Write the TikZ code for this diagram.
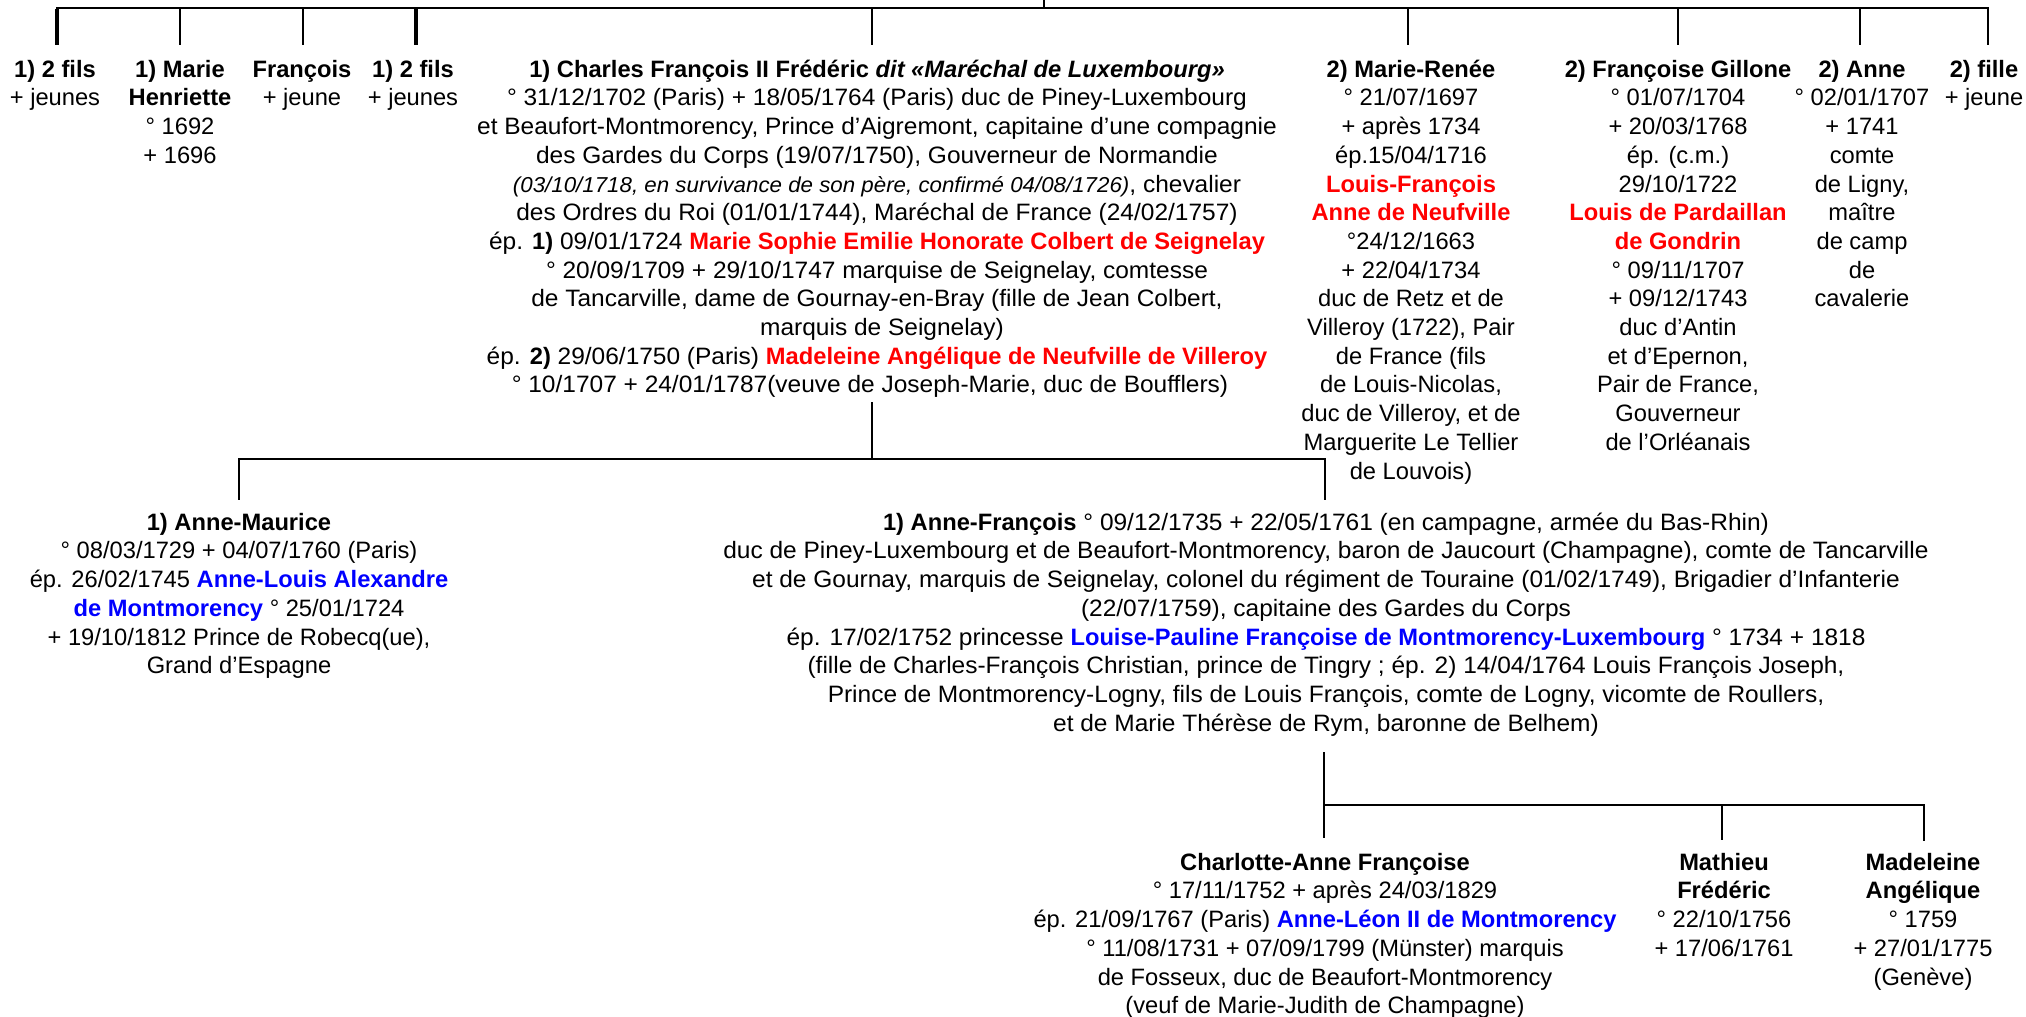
\documentclass[tikz,border=0pt]{standalone}
\usepackage{fontspec}
\setmainfont{Liberation Sans}
\newfontfamily\widefont[FakeStretch=1.033]{Liberation Sans}
\definecolor{pred}{RGB}{255,0,0}
\definecolor{pblue}{RGB}{0,0,255}
\newcommand\pfont{\fontsize{23.7}{28.7}\selectfont}
\newcommand\tp{\rule{0pt}{19pt}}
\newcommand\rdname[1]{\textcolor{pred}{\normalfont\bfseries #1}}
\newcommand\blname[1]{\textcolor{pblue}{\normalfont\bfseries #1}}
\newcommand\bname[1]{{\normalfont\bfseries #1}}
\newcommand\shl[1]{\hspace*{#1pt}}
\begin{document}
\begin{tikzpicture}[x=1pt,y=-1pt,
  person/.style={anchor=north,inner sep=0pt,align=center,font=\pfont},
  wideperson/.style={person,font=\pfont\widefont},
  link/.style={line width=1.8pt},
  bar/.style={line width=2.8pt},
  heavy/.style={line width=4pt}]
\fill[white] (0,0) rectangle (2026,1017);
\useasboundingbox (0,0) rectangle (2026,1017);

% ---------- top row ----------
\node[person] (n1) at (55,58) {\tp\textbf{1) 2 fils}\\+ jeunes};
\node[person] (n2) at (180,58) {\tp\textbf{1) Marie}\\\textbf{Henriette}\\° 1692\\+ 1696};
\node[person] (n3) at (302,58) {\tp\textbf{François}\\+ jeune};
\node[person] (n4) at (413,58) {\tp\textbf{1) 2 fils}\\+ jeunes};
\node[wideperson] (n5) at (877,58) {\tp\bname{1) Charles François II Frédéric \textit{dit «Maréchal de Luxembourg»}}\\
° 31/12/1702 (Paris) + 18/05/1764 (Paris) duc de Piney-Luxembourg\\
et Beaufort-Montmorency, Prince d’Aigremont, capitaine d’une compagnie\\
des Gardes du Corps (19/07/1750), Gouverneur de Normandie\shl{26}\\
{\fontsize{21.6}{28.7}\selectfont\itshape (03/10/1718, en survivance de son père, confirmé 04/08/1726)}, chevalier\shl{12}\\
des Ordres du Roi (01/01/1744), Maréchal de France (24/02/1757)\shl{26}\\
ép. \bname{1)} 09/01/1724 \rdname{Marie Sophie Emilie Honorate Colbert de Seignelay}\shl{4}\\
° 20/09/1709 + 29/10/1747 marquise de Seignelay, comtesse\shl{31}\\
de Tancarville, dame de Gournay-en-Bray (fille de Jean Colbert,\shl{19}\\
\shl{10}marquis de Seignelay)\\
ép. \bname{2)} 29/06/1750 (Paris) \rdname{Madeleine Angélique de Neufville de Villeroy}\shl{2}\\
° 10/1707 + 24/01/1787(veuve de Joseph-Marie, duc de Boufflers)\shl{14}};
\node[person] (n6) at (1411,58) {\tp\textbf{2) Marie-Renée}\\° 21/07/1697\\+ après 1734\\ép.15/04/1716\\
\rdname{Louis-François}\\\rdname{Anne de Neufville}\\°24/12/1663\\+ 22/04/1734\\duc de Retz et de\\
Villeroy (1722), Pair\\de France (fils\\de Louis-Nicolas,\\duc de Villeroy, et de\\Marguerite Le Tellier\\de Louvois)};
\node[person] (n7) at (1678,58) {\tp\textbf{2) Françoise Gillone}\\° 01/07/1704\\+ 20/03/1768\\ép. (c.m.)\\29/10/1722\\
\rdname{Louis de Pardaillan}\\\rdname{de Gondrin}\\° 09/11/1707\\+ 09/12/1743\\duc d’Antin\\et d’Epernon,\\
Pair de France,\\Gouverneur\\de l’Orléanais};
\node[person] (n8) at (1862,58) {\tp\textbf{2) Anne}\\° 02/01/1707\\+ 1741\\comte\\de Ligny,\\maître\\de camp\\de\\cavalerie};
\node[person] (n9) at (1984,58) {\tp\textbf{2) fille}\\+ jeune};

% ---------- second row ----------
\node[person] (m1) at (239,511) {\tp\textbf{1) Anne-Maurice}\\° 08/03/1729 + 04/07/1760 (Paris)\\
ép. 26/02/1745 \blname{Anne-Louis Alexandre}\\\blname{de Montmorency} ° 25/01/1724\\
+ 19/10/1812 Prince de Robecq(ue),\\Grand d’Espagne};
\node[wideperson] (m2) at (1326,511) {\tp\bname{1) Anne-François} ° 09/12/1735 + 22/05/1761 (en campagne, armée du Bas-Rhin)\\
duc de Piney-Luxembourg et de Beaufort-Montmorency, baron de Jaucourt (Champagne), comte de Tancarville\\
et de Gournay, marquis de Seignelay, colonel du régiment de Touraine (01/02/1749), Brigadier d’Infanterie\\
(22/07/1759), capitaine des Gardes du Corps\\
ép. 17/02/1752 princesse \blname{Louise-Pauline Françoise de Montmorency-Luxembourg} ° 1734 + 1818\\
(fille de Charles-François Christian, prince de Tingry ; ép. 2) 14/04/1764 Louis François Joseph,\\
Prince de Montmorency-Logny, fils de Louis François, comte de Logny, vicomte de Roullers,\\
et de Marie Thérèse de Rym, baronne de Belhem)};

% ---------- third row ----------
\node[person] (k1) at (1325,851) {\tp\textbf{Charlotte-Anne Françoise}\\° 17/11/1752 + après 24/03/1829\\
ép. 21/09/1767 (Paris) \blname{Anne-Léon II de Montmorency}\\° 11/08/1731 + 07/09/1799 (Münster) marquis\\
de Fosseux, duc de Beaufort-Montmorency\\(veuf de Marie-Judith de Champagne)};
\node[person] (k2) at (1724,851) {\tp\textbf{Mathieu}\\\textbf{Frédéric}\\° 22/10/1756\\+ 17/06/1761};
\node[person] (k3) at (1923,851) {\tp\textbf{Madeleine}\\\textbf{Angélique}\\° 1759\\+ 27/01/1775\\(Genève)};

% ---------- connectors ----------
\coordinate (par) at (1044,0);
\coordinate (b1) at (57,8);   \coordinate (b2) at (180,8);  \coordinate (b3) at (303,8);
\coordinate (b4) at (416,8);  \coordinate (b5) at (872,8);  \coordinate (b6) at (1408,8);
\coordinate (b7) at (1678,8); \coordinate (b8) at (1860,8); \coordinate (b9) at (1988,8);
\draw[bar] ([xshift=-1pt]b1) -- ([xshift=1pt]b9);
\draw[link] (par) -- (par |- b1);
\draw[heavy] ([yshift=-1.4pt]b1) -- (b1 |- n1.north) [shorten >=13pt];
\draw[heavy] ([yshift=-1.4pt]b4) -- (b4 |- n4.north) [shorten >=13pt];
\foreach \b/\n in {b2/n2,b3/n3,b5/n5,b6/n6,b7/n7,b8/n8,b9/n9}
  \draw[link,shorten >=13pt] (\b) -- (\b |- \n.north);

\coordinate (c0) at (872,459);
\coordinate (c1) at (239,459);
\coordinate (c2) at (1325,459);
\draw[link,shorten <=4pt] (c0 |- n5.south) -- (c0);
\draw[bar] ([xshift=-1pt]c1) -- ([xshift=1pt]c2);
\draw[link,shorten >=11pt] (c1) -- (c1 |- m1.north);
\draw[link,shorten >=11pt] (c2) -- (c2 |- m2.north);

\coordinate (d1) at (1324,805);
\coordinate (d2) at (1722,805);
\coordinate (d3) at (1924,805);
\draw[link,shorten <=16pt,shorten >=13pt] (d1 |- m2.south) -- (d1 |- k1.north);
\draw[bar] ([xshift=-1pt]d1) -- ([xshift=1pt]d3);
\draw[link,shorten >=11pt] (d2) -- (d2 |- k2.north);
\draw[link,shorten >=10pt] (d3) -- (d3 |- k3.north);
\end{tikzpicture}
\end{document}
